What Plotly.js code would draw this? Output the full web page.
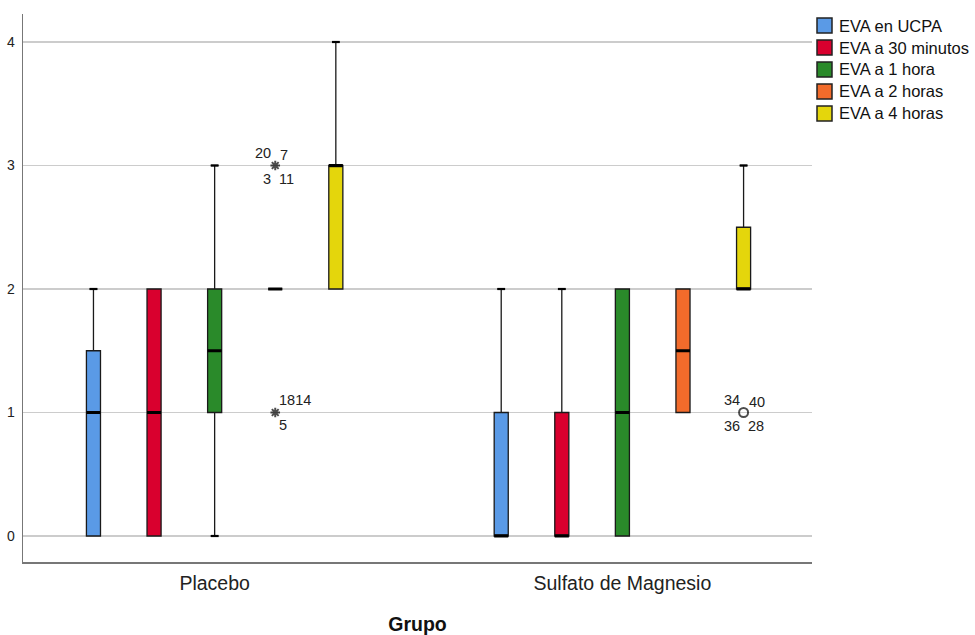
<!DOCTYPE html>
<html>
<head>
<meta charset="utf-8">
<script src="https://cdn.plot.ly/plotly-3.0.1.min.js"></script>
<style>html,body{margin:0;padding:0;background:#fff;}#chart{width:975px;height:635px;}</style>
</head>
<body>
<div id="chart"></div>
<script>
// ---- data ----
const groups = ["Placebo", "Sulfato de Magnesio"];
const seriesNames = ["EVA en UCPA", "EVA a 30 minutos", "EVA a 1 hora", "EVA a 2 horas", "EVA a 4 horas"];
const seriesColors = ["#5A9AE6", "#D9002E", "#2A8A2A", "#F26B2B", "#E4D60C"];
// per series: [Placebo, Sulfato]
const lowerFence = [[0, 0], [0, 0], [0, 0], [2, 1], [2, 2]];
const q1Vals     = [[0, 0], [0, 0], [1, 0], [2, 1], [2, 2]];
const medians    = [[1, 0], [1, 0], [1.5, 1], [2, 1.5], [3, 2]];
const q3Vals     = [[1.5, 1], [2, 1], [2, 2], [2, 2], [3, 2.5]];
const upperFence = [[2, 2], [2, 2], [3, 2], [2, 2], [4, 3]];
// outliers
const outGroup  = [0, 0, 1];
const outSeries = [3, 3, 4];
const outValue  = [3, 1, 1];
const outSymbol = ["asterisk-open", "asterisk-open", "circle-open"];
const outLabelsAbove = [["20", "7"], ["1814"], ["34", "40"]];
const outLabelsBelow = [["3", "11"], ["5"], ["36", "28"]];
const yTicks = [0, 1, 2, 3, 4];

// ---- layout helpers ----
const FONT = "Liberation Sans, Arial, sans-serif";
const seriesStep = 0.1486;
const boxW = 0.0345;
function xPos(g, s) { return g + (s - 2) * seriesStep; }

const traces = [];
seriesNames.forEach((name, s) => {
  traces.push({
    type: "box",
    name: name,
    x: groups.map((_, g) => xPos(g, s)),
    q1: q1Vals[s], median: medians[s], q3: q3Vals[s],
    lowerfence: lowerFence[s], upperfence: upperFence[s],
    width: boxW,
    whiskerwidth: 0.55,
    fillcolor: seriesColors[s],
    line: { color: "#1a1a1a", width: 1.3 },
    boxpoints: false,
    hoverinfo: "skip",
    showlegend: false
  });
});
// thick median lines and whisker caps
const mx = [], my = [], cx = [], cy = [];
const capW = boxW * 0.55;
seriesNames.forEach((_, s) => {
  groups.forEach((_, g) => {
    const c = xPos(g, s);
    mx.push(c - boxW / 2, c + boxW / 2, null);
    my.push(medians[s][g], medians[s][g], null);
    if (upperFence[s][g] > q3Vals[s][g]) {
      cx.push(c - capW / 2, c + capW / 2, null);
      cy.push(upperFence[s][g], upperFence[s][g], null);
    }
    if (lowerFence[s][g] < q1Vals[s][g]) {
      cx.push(c - capW / 2, c + capW / 2, null);
      cy.push(lowerFence[s][g], lowerFence[s][g], null);
    }
  });
});
traces.push({ type: "scatter", mode: "lines", x: mx, y: my, line: { color: "#000", width: 3 }, showlegend: false, hoverinfo: "skip" });
traces.push({ type: "scatter", mode: "lines", x: cx, y: cy, line: { color: "#000", width: 2.2 }, showlegend: false, hoverinfo: "skip" });
// outliers
traces.push({
  type: "scatter", mode: "markers",
  x: outGroup.map((g, i) => xPos(g, outSeries[i])),
  y: outValue,
  marker: { symbol: outSymbol, size: [8, 8, 9], color: "#000", line: { color: "#000", width: 2 } },
  showlegend: false, hoverinfo: "skip"
});

const annotations = [];
const shapes = [];
const lblFont = { family: FONT, size: 14.5, color: "#222" };
outValue.forEach((v, i) => {
  const x = xPos(outGroup[i], outSeries[i]);
  const above = outLabelsAbove[i], below = outLabelsBelow[i];
  if (above.length === 2) {
    annotations.push({ x: x, y: v, xref: "x", yref: "y", text: above[0], showarrow: false, font: lblFont, xanchor: "right", xshift: -2, yshift: 13 });
    annotations.push({ x: x, y: v, xref: "x", yref: "y", text: above[1], showarrow: false, font: lblFont, xanchor: "left", xshift: 3, yshift: 11 });
  } else {
    annotations.push({ x: x, y: v, xref: "x", yref: "y", text: above[0], showarrow: false, font: lblFont, xanchor: "left", xshift: 2, yshift: 13 });
  }
  if (below.length === 2) {
    annotations.push({ x: x, y: v, xref: "x", yref: "y", text: below[0], showarrow: false, font: lblFont, xanchor: "right", xshift: -2, yshift: -13 });
    annotations.push({ x: x, y: v, xref: "x", yref: "y", text: below[1], showarrow: false, font: lblFont, xanchor: "left", xshift: 2, yshift: -13 });
  } else {
    annotations.push({ x: x, y: v, xref: "x", yref: "y", text: below[0], showarrow: false, font: lblFont, xanchor: "left", xshift: 2, yshift: -12 });
  }
});

// manual legend (paper coords: plot area px 23..812 x, 14..562 y)
const PW = 789, PH = 548, PL = 23, PB = 562;
function px2x(px) { return (px - PL) / PW; }
function py2y(py) { return (PB - py) / PH; }
seriesNames.forEach((name, s) => {
  const cyPx = 25.5 + s * 22;
  shapes.push({
    type: "rect", xref: "paper", yref: "paper",
    x0: px2x(817), x1: px2x(832), y0: py2y(cyPx + 7.5), y1: py2y(cyPx - 7.5),
    fillcolor: seriesColors[s], line: { color: "#222", width: 1.5 }
  });
  annotations.push({
    xref: "paper", yref: "paper", x: px2x(837), y: py2y(cyPx),
    xanchor: "left", yanchor: "middle", text: name, showarrow: false,
    font: { family: FONT, size: 16.5, color: "#111" }
  });
});

const layout = {
  width: 975, height: 635,
  margin: { l: 23, r: 163, t: 14, b: 73 },
  paper_bgcolor: "#fff", plot_bgcolor: "#fff",
  font: { family: FONT, color: "#222" },
  boxmode: "overlay",
  showlegend: false,
  xaxis: {
    range: [-0.47, 1.465],
    tickmode: "array", tickvals: groups.map((_, g) => g), ticktext: groups,
    showgrid: false, zeroline: false,
    showline: true, linecolor: "#777", linewidth: 1.5,
    ticks: "", tickfont: { size: 19.5, color: "#222" }, ticklabelstandoff: 3,
    title: { text: "<b>Grupo</b>", font: { size: 19.5, color: "#111" }, standoff: 26 }
  },
  yaxis: {
    range: [-0.2105, 4.2267],
    tickmode: "array", tickvals: yTicks, ticktext: yTicks.map(String),
    showgrid: true, gridcolor: "#cccccc", gridwidth: 1.3,
    zeroline: false,
    showline: true, linecolor: "#777", linewidth: 1.5,
    ticks: "", tickfont: { size: 14, color: "#222" }, ticklabelstandoff: 4
  },
  shapes: shapes,
  annotations: annotations
};

Plotly.newPlot("chart", traces, layout, { staticPlot: true, displayModeBar: false });
</script>
</body>
</html>
